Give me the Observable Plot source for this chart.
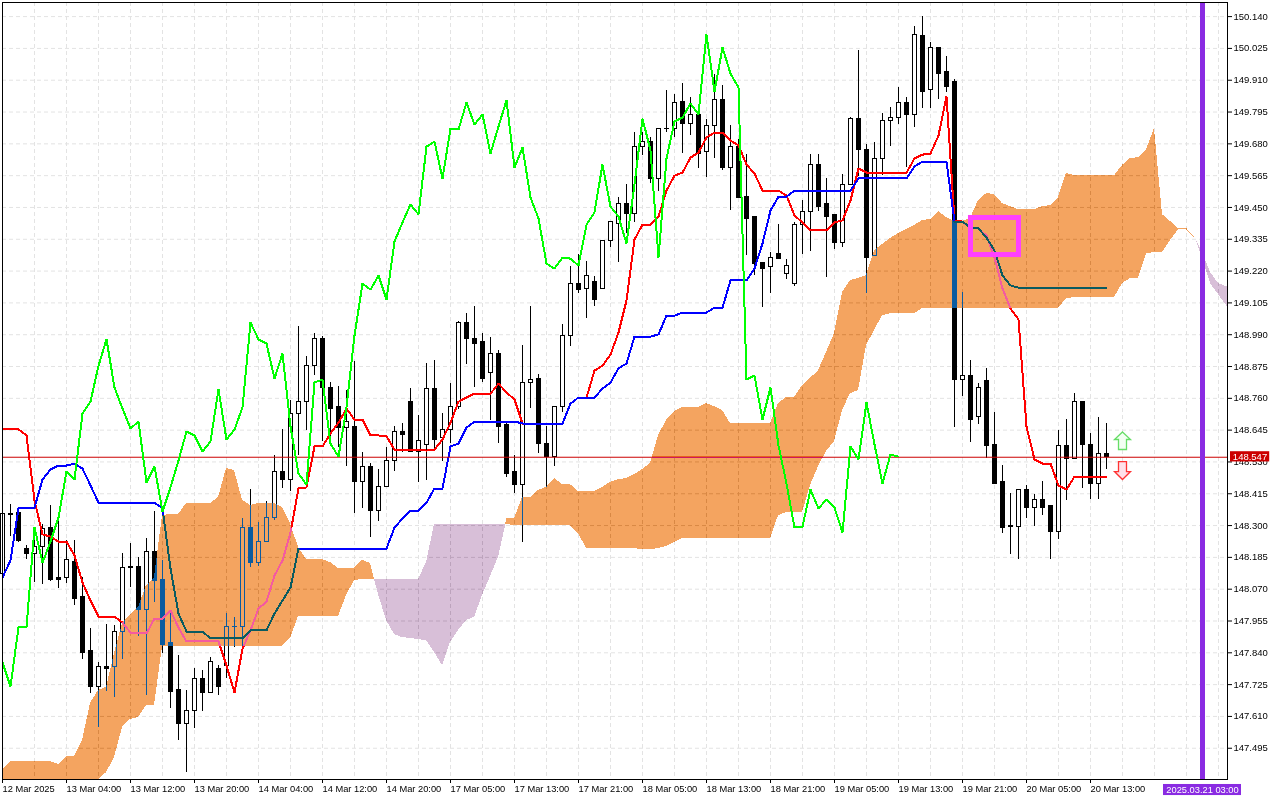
<!DOCTYPE html>
<html>
<head>
<meta charset="utf-8">
<script src="https://cdn.jsdelivr.net/npm/d3@7"></script>
<script src="https://cdn.jsdelivr.net/npm/@observablehq/plot@0.6"></script>
<style>html,body{margin:0;padding:0;background:#fff}#c{width:1280px;height:800px;overflow:hidden}</style>
</head>
<body>
<div id="c"></div>
<script>
// Hourly bars, index 0 = 12 Mar 2025 20:00
const open = [
148.126,148.343,148.347,148.217,148.196,148.221,148.293,148.112,148.112,148.170,
148.040,147.845,147.718,147.790,147.787,147.917,148.152,148.152,147.993,148.206,
148.105,147.877,147.704,147.581,147.631,147.744,147.693,147.780,147.794,147.935,
147.935,148.293,148.166,148.242,148.329,148.495,148.463,148.705,148.745,148.878,
148.973,148.799,148.727,148.651,148.658,148.459,148.513,148.351,148.438,148.535,
148.640,148.745,148.567,148.593,148.792,148.615,148.647,148.727,149.034,148.976,
148.962,148.850,148.922,148.662,148.495,148.448,148.817,148.831,148.596,148.549,
148.727,148.987,149.175,149.157,149.179,149.157,149.327,149.392,149.461,149.428,
149.670,149.685,149.554,149.735,149.735,149.833,149.750,149.786,149.649,149.743,
149.837,149.591,149.667,149.489,149.414,149.251,149.233,149.283,149.211,149.175,
149.388,149.432,149.605,149.461,149.421,149.320,149.533,149.771,149.659,149.273,
149.627,149.761,149.775,149.826,149.786,150.071,149.876,150.028,149.938,149.905,
148.828,148.839,148.694,148.821,148.593,148.456,148.300,148.296,148.430,148.362,
148.394,148.369,148.275,148.589,148.539,148.745,148.593,148.452,148.557];
const high = [
148.373,148.376,148.354,148.228,148.282,148.304,148.373,148.318,148.246,148.246,
148.112,147.928,147.805,147.942,147.939,148.199,148.235,148.185,148.253,148.351,
148.174,147.982,147.830,147.704,147.783,147.776,147.823,147.794,147.982,147.968,
148.325,148.430,148.311,148.387,148.553,148.647,148.752,149.019,148.911,148.994,
148.983,148.817,148.803,148.788,148.893,148.564,148.524,148.503,148.582,148.658,
148.669,148.795,148.698,148.886,148.897,148.705,148.813,149.038,149.066,149.092,
148.994,148.980,148.933,148.673,148.553,148.951,149.092,148.846,148.658,148.730,
149.027,149.236,149.280,149.254,149.200,149.330,149.396,149.486,149.533,149.721,
149.721,149.703,149.735,149.873,149.858,149.898,149.847,149.800,149.768,149.930,
149.891,149.746,149.696,149.641,149.414,149.251,149.287,149.388,149.262,149.396,
149.475,149.641,149.641,149.554,149.421,149.569,149.775,150.017,149.677,149.685,
149.790,149.811,149.884,149.847,150.104,150.140,150.046,150.028,149.996,149.912,
149.142,148.897,148.813,148.868,148.709,148.517,148.416,148.430,148.445,148.412,
148.459,148.369,148.644,148.683,148.777,148.745,148.633,148.690,148.669];
const low = [
148.108,148.260,148.239,148.178,148.094,148.087,148.098,148.072,148.090,148.011,
147.816,147.693,147.570,147.700,147.678,147.816,148.076,147.899,147.686,148.022,
147.837,147.639,147.523,147.408,147.566,147.628,147.693,147.686,147.747,147.859,
147.848,148.148,148.152,148.242,148.318,148.434,148.423,148.553,148.644,148.842,
148.604,148.604,148.582,148.513,148.343,148.362,148.257,148.315,148.438,148.495,
148.564,148.564,148.456,148.463,148.571,148.531,148.596,148.719,148.882,148.799,
148.817,148.680,148.596,148.474,148.416,148.239,148.723,148.560,148.438,148.513,
148.709,148.947,149.139,149.048,149.092,149.157,149.305,149.251,149.356,149.396,
149.638,149.536,149.507,149.721,149.703,149.645,149.710,149.591,149.558,149.627,
149.583,149.439,149.486,149.276,149.204,149.088,149.139,149.265,149.189,149.164,
149.280,149.291,149.435,149.197,149.298,149.305,149.533,149.562,149.139,149.273,
149.565,149.670,149.750,149.594,149.739,149.808,149.808,149.840,149.866,148.654,
148.766,148.600,148.665,148.542,148.452,148.271,148.195,148.177,148.325,148.296,
148.336,148.177,148.250,148.391,148.539,148.434,148.394,148.394,148.503];
const close = [
148.343,148.340,148.246,148.196,148.221,148.289,148.105,148.105,148.174,148.036,
147.841,147.718,147.787,147.783,147.917,148.148,148.148,147.993,148.206,148.101,
147.870,147.700,147.581,147.628,147.744,147.693,147.805,147.718,147.932,147.932,
148.293,148.166,148.242,148.329,148.495,148.466,148.705,148.748,148.878,148.973,
148.799,148.723,148.651,148.676,148.456,148.513,148.351,148.438,148.535,148.640,
148.626,148.567,148.604,148.792,148.611,148.647,148.727,149.034,148.973,148.958,
148.831,148.922,148.658,148.488,148.448,148.817,148.828,148.596,148.549,148.727,
148.987,149.175,149.153,149.204,149.117,149.327,149.396,149.461,149.425,149.670,
149.688,149.554,149.735,149.732,149.829,149.750,149.786,149.645,149.743,149.837,
149.594,149.667,149.486,149.410,149.247,149.229,149.269,149.265,149.240,149.388,
149.432,149.605,149.453,149.417,149.320,149.533,149.771,149.656,149.269,149.627,
149.761,149.775,149.826,149.786,150.075,149.869,150.028,149.934,149.884,148.828,
148.842,148.683,148.799,148.589,148.452,148.293,148.296,148.430,148.362,148.394,
148.365,148.275,148.586,148.539,148.745,148.593,148.452,148.557,148.549];

// Red line, bars 0..138
const redLine = [
148.648,148.648,148.648,148.626,148.391,148.268,148.260,148.242,148.242,148.192,
148.094,148.029,147.971,147.971,147.971,147.949,147.913,147.910,147.910,147.964,
147.964,147.993,147.931,147.881,147.881,147.881,147.881,147.881,147.794,147.696,
147.855,147.921,148.000,148.025,148.119,148.174,148.275,148.434,148.438,148.586,
148.586,148.633,148.672,148.723,148.683,148.683,148.626,148.626,148.622,148.575,
148.575,148.575,148.575,148.571,148.575,148.611,148.672,148.748,148.763,148.777,
148.777,148.777,148.813,148.781,148.756,148.669,148.669,148.669,148.669,148.669,
148.669,148.741,148.763,148.763,148.860,148.878,148.918,148.998,149.114,149.334,
149.388,149.388,149.417,149.511,149.565,149.576,149.630,149.649,149.703,149.721,
149.721,149.692,149.674,149.605,149.573,149.511,149.511,149.511,149.493,149.421,
149.396,149.367,149.367,149.367,149.396,149.403,149.475,149.591,149.576,149.576,
149.576,149.576,149.576,149.576,149.627,149.641,149.645,149.710,149.851,149.403,
149.399,149.374,149.374,149.348,149.269,149.157,149.085,149.045,148.658,148.539,
148.524,148.524,148.445,148.430,148.477,148.477,148.477,148.477,148.477];
// Blue line, bars 0..138
const blueLine = [
148.112,148.174,148.362,148.362,148.365,148.466,148.503,148.517,148.517,148.524,
148.506,148.445,148.383,148.383,148.383,148.383,148.383,148.383,148.383,148.383,
148.362,148.145,147.982,147.917,147.917,147.917,147.892,147.892,147.892,147.892,
147.892,147.921,147.921,147.921,147.982,148.029,148.076,148.217,148.217,148.217,
148.217,148.217,148.217,148.217,148.217,148.217,148.217,148.217,148.217,148.293,
148.325,148.354,148.354,148.383,148.434,148.434,148.586,148.596,148.654,148.676,
148.676,148.676,148.676,148.676,148.676,148.669,148.669,148.669,148.669,148.669,
148.669,148.741,148.763,148.763,148.763,148.795,148.817,148.868,148.886,148.983,
148.983,148.983,148.991,149.059,149.059,149.070,149.070,149.070,149.070,149.088,
149.088,149.186,149.186,149.186,149.229,149.320,149.439,149.489,149.489,149.511,
149.511,149.511,149.511,149.511,149.511,149.511,149.511,149.555,149.555,149.555,
149.555,149.555,149.555,149.555,149.598,149.616,149.616,149.616,149.616,149.399,
149.399,149.377,149.374,149.341,149.294,149.204,149.168,149.160,149.160,149.160,
149.160,149.160,149.160,149.160,149.160,149.160,149.160,149.160,149.160];
// Green line, bars 0..112
const greenLine = [
147.805,147.718,147.932,147.932,148.293,148.166,148.242,148.329,148.495,148.466,
148.705,148.748,148.878,148.973,148.799,148.723,148.651,148.676,148.456,148.513,
148.351,148.438,148.535,148.640,148.626,148.567,148.604,148.792,148.611,148.647,
148.727,149.034,148.973,148.958,148.831,148.922,148.658,148.488,148.448,148.817,
148.828,148.596,148.549,148.727,148.987,149.175,149.153,149.204,149.117,149.327,
149.396,149.461,149.425,149.670,149.688,149.554,149.735,149.732,149.829,149.750,
149.786,149.645,149.743,149.837,149.594,149.667,149.486,149.410,149.247,149.229,
149.269,149.265,149.240,149.388,149.432,149.605,149.453,149.417,149.320,149.533,
149.771,149.656,149.269,149.627,149.761,149.775,149.826,149.786,150.075,149.869,
150.028,149.934,149.884,148.828,148.842,148.683,148.799,148.589,148.452,148.293,
148.296,148.430,148.362,148.394,148.365,148.275,148.586,148.539,148.745,148.593,
148.452,148.557,148.549];

// Cloud segments: first bar index, upper edge, lower edge
const cloudAStart = 0;
const cloudATop = [
147.415,147.447,147.447,147.447,147.447,147.447,147.447,147.436,147.465,147.465,
147.523,147.657,147.704,147.715,147.837,147.946,147.975,148.004,148.083,148.112,
148.336,148.340,148.340,148.380,148.380,148.380,148.380,148.401,148.506,148.499,
148.391,148.373,148.380,148.380,148.380,148.365,148.307,148.221,148.177,148.177,
148.177,148.166,148.145,148.145,148.145,148.174,148.163];
const cloudABot = [
147.382,147.382,147.382,147.382,147.382,147.382,147.382,147.382,147.382,147.382,
147.382,147.382,147.382,147.407,147.461,147.570,147.599,147.606,147.649,147.649,
147.863,147.863,147.863,147.863,147.863,147.863,147.863,147.863,147.863,147.863,
147.863,147.863,147.863,147.863,147.863,147.863,147.892,147.971,147.971,147.971,
147.971,147.971,147.971,148.047,148.101,148.105,148.105];
const crossAB = [46.5, 148.105];
const cloudBStart = 47;
const cloudBTop = [
148.105,148.105,148.105,148.105,148.105,148.105,148.166,148.304,148.304,148.304,
148.304,148.304,148.304,148.304,148.304,148.304];
const cloudBBot = [
148.051,147.957,147.906,147.895,147.892,147.888,147.884,147.841,147.794,147.877,
147.921,147.957,147.968,148.047,148.116,148.185];
const crossBC = [62.9, 148.302];
const cloudCStart = 63;
const cloudCTop = [
148.325,148.325,148.401,148.401,148.427,148.438,148.470,148.448,148.448,148.423,
148.423,148.423,148.438,148.456,148.466,148.470,148.484,148.503,148.524,148.625,
148.680,148.712,148.727,148.727,148.727,148.741,148.730,148.716,148.669,148.669,
148.669,148.669,148.669,148.669,148.741,148.763,148.763,148.806,148.832,148.860,
148.926,148.994,149.142,149.186,149.193,149.204,149.294,149.316,149.338,149.356,
149.370,149.385,149.403,149.406,149.435,149.414,149.399,149.399,149.410,149.475,
149.500,149.497,149.464,149.453,149.442,149.442,149.442,149.453,149.457,149.486,
149.573,149.565,149.565,149.565,149.565,149.565,149.565,149.602,149.627,149.630,
149.659,149.735,149.424,149.399,149.374,149.374,149.345];
const cloudCBot = [
148.304,148.300,148.300,148.300,148.300,148.300,148.300,148.300,148.300,148.271,
148.217,148.217,148.217,148.217,148.217,148.217,148.217,148.213,148.213,148.217,
148.224,148.239,148.253,148.253,148.253,148.253,148.253,148.253,148.253,148.253,
148.253,148.253,148.253,148.253,148.336,148.347,148.347,148.347,148.445,148.513,
148.568,148.604,148.716,148.777,148.788,148.951,149.005,149.059,149.066,149.066,
149.066,149.066,149.085,149.085,149.085,149.085,149.085,149.085,149.085,149.085,
149.085,149.085,149.085,149.085,149.085,149.085,149.085,149.085,149.085,149.085,
149.121,149.124,149.124,149.124,149.124,149.124,149.124,149.175,149.193,149.193,
149.283,149.287,149.287,149.330,149.370,149.370,149.341];
const crossCD = [149.1, 149.340];
const cloudDStart = 150;
const cloudDTop = [149.287,149.215,149.175,149.164];
const cloudDBot = [149.265,149.175,149.135,149.095];
const cloudDEnd = {k:153.125,t:149.161,b:149.092};

const yTicks = [150.140,150.025,149.910,149.795,149.680,149.565,149.450,149.335,149.220,149.105,148.990,148.875,148.760,148.645,148.530,148.415,148.300,148.185,148.070,147.955,147.840,147.725,147.610,147.495];
const xTickBars = [0,8,16,24,32,40,48,56,64,72,80,88,96,104,112,120,128,136];
const xTickLabels = ["12 Mar 2025","13 Mar 04:00","13 Mar 12:00","13 Mar 20:00","14 Mar 04:00","14 Mar 12:00","14 Mar 20:00","17 Mar 05:00","17 Mar 13:00","17 Mar 21:00","18 Mar 05:00","18 Mar 13:00","18 Mar 21:00","19 Mar 05:00","19 Mar 13:00","19 Mar 21:00","20 Mar 05:00","20 Mar 13:00"];
const xGridBars = [0,4,8,12,16,20,24,28,32,36,40,44,48,52,56,60,64,68,72,76,80,84,88,92,96,100,104,108,112,116,120,124,128,132,136,140,144,148,152];
const lastPrice = 148.547;
const markerBar = 150;
const markerLabel = "2025.03.21 03:00";
const zoneBox = [{x1:121.06,x2:127.06,y1:149.278,y2:149.412}];
const upArrow = [{k:140,p:148.604}];
const downArrow = [{k:140,p:148.499}];
const priceTagBox = [{x1:153.5,x2:158.4,y1:148.530,y2:148.567}];
const priceTagText = [{k:155.94,p:lastPrice}];
const markerTagBox = [{x1:145.125,x2:154.875,y1:147.324,y2:147.364}];
const markerTagText = [{k:150,p:147.344}];

const candles = open.map((o,i)=>({k:i,o,h:high[i],l:low[i],c:close[i]}));
const upBars = candles.filter(d=>d.c>d.o);
const downBars = candles.filter(d=>d.c<=d.o);
const seriesRows = a => a.map((v,i)=>({k:i,v}));
const seg = (start,top,bot,head,tail) => [
  ...(head?[{k:head[0],t:head[1],b:head[1]}]:[]),
  ...top.map((t,i)=>({k:start+i,t,b:bot[i]})),
  ...(tail?[{k:tail[0],t:tail[1],b:tail[1]}]:[])
];
const orange1 = seg(cloudAStart,cloudATop,cloudABot,null,crossAB);
const purple1 = seg(cloudBStart,cloudBTop,cloudBBot,crossAB,crossBC);
const orange2 = seg(cloudCStart,cloudCTop,cloudCBot,crossBC,crossCD);
const purple2 = [...seg(cloudDStart,cloudDTop,cloudDBot,crossCD,null),cloudDEnd];

const ORANGE_X = "#0b5b9f";   // difference against white gives sandybrown
const THISTLE_X = "#274027";  // difference against white gives thistle
const cloudMark = (rows,fill) => Plot.areaY(rows,{x:"k",y1:"b",y2:"t",fill,mixBlendMode:"difference",shapeRendering:"crispEdges"});
const lineMark = (a,stroke) => Plot.lineY(seriesRows(a),{x:"k",y:"v",stroke,strokeWidth:2,curve:"linear",shapeRendering:"crispEdges",strokeLinejoin:"miter",strokeLinecap:"butt"});
const arrowUp = {draw(c,size){const s=Math.sqrt(size/Math.PI)/8;
  c.moveTo(0,-9.5*s);c.lineTo(8*s,-2*s);c.lineTo(4*s,-2*s);c.lineTo(4*s,8*s);c.lineTo(-4*s,8*s);c.lineTo(-4*s,-2*s);c.lineTo(-8*s,-2*s);c.closePath();}};
const arrowDown = {draw(c,size){const s=Math.sqrt(size/Math.PI)/8;
  c.moveTo(0,9*s);c.lineTo(8*s,1*s);c.lineTo(4*s,1*s);c.lineTo(4*s,-9*s);c.lineTo(-4*s,-9*s);c.lineTo(-4*s,1*s);c.lineTo(-8*s,1*s);c.closePath();}};

const chart = Plot.plot({
  width:1280,height:800,
  marginLeft:2,marginRight:53,marginTop:2,marginBottom:21,
  style:{fontFamily:"'Liberation Sans',sans-serif",fontSize:"9.3px",background:"#fff",color:"#000"},
  x:{domain:[0,153.125]},
  y:{domain:[147.382,150.191]},
  marks:[
    Plot.frame({fill:"#fff",stroke:"none"}),
    Plot.gridX(xGridBars,{stroke:"#e3e3e3",strokeOpacity:1,strokeDasharray:"4,3"}),
    Plot.gridY(yTicks,{stroke:"#e3e3e3",strokeOpacity:1,strokeDasharray:"4,3"}),
    Plot.ruleX(candles,{x:"k",y1:"l",y2:"h",stroke:"#000",strokeWidth:1,shapeRendering:"crispEdges"}),
    Plot.rectY(upBars,{x1:d=>d.k-0.25,x2:d=>d.k+0.25,y1:"o",y2:"c",fill:"#fff",stroke:"#000",strokeWidth:1,shapeRendering:"crispEdges"}),
    Plot.rectY(downBars,{x1:d=>d.k-0.25,x2:d=>d.k+0.25,y1:"o",y2:"c",fill:"#000",stroke:"#000",strokeWidth:1,shapeRendering:"crispEdges"}),
    lineMark(redLine,"#ff0000"),
    lineMark(blueLine,"#0000ff"),
    Plot.ruleY([lastPrice],{stroke:"#cc0000",strokeWidth:1}),
    cloudMark(orange1,ORANGE_X),
    cloudMark(purple1,THISTLE_X),
    cloudMark(orange2,ORANGE_X),
    cloudMark(purple2,THISTLE_X),
    lineMark(greenLine,"#00ff00"),
    Plot.rect(zoneBox,{x1:"x1",x2:"x2",y1:"y1",y2:"y2",fill:"none",stroke:"#ff40ff",strokeWidth:5,strokeLinejoin:"miter"}),
    Plot.ruleX([markerBar],{stroke:"#8a2be2",strokeWidth:5}),
    Plot.dot(upArrow,{x:"k",y:"p",r:8,symbol:arrowUp,fill:"#f2fff2",stroke:"#66dd66",strokeWidth:1.3}),
    Plot.dot(downArrow,{x:"k",y:"p",r:8,symbol:arrowDown,fill:"#ffe2ea",stroke:"#ff3333",strokeWidth:1.3}),
    Plot.frame({stroke:"#000",strokeWidth:1}),
    Plot.axisY({ticks:yTicks,anchor:"right",tickSize:4,tickPadding:2,tickFormat:d=>d.toFixed(3),label:null,textAnchor:"start",stroke:"#000",fontSize:9.5}),
    Plot.axisX({ticks:xTickBars,anchor:"bottom",tickSize:4,tickPadding:2,tickFormat:d=>xTickLabels[xTickBars.indexOf(d)],label:null,textAnchor:"start",stroke:"#000"}),
    Plot.rect(priceTagBox,{x1:"x1",x2:"x2",y1:"y1",y2:"y2",fill:"#cc0000"}),
    Plot.text(priceTagText,{x:"k",y:"p",text:()=>lastPrice.toFixed(3),fill:"#fff",fontSize:9.5}),
    Plot.rect(markerTagBox,{x1:"x1",x2:"x2",y1:"y1",y2:"y2",fill:"#8a2be2"}),
    Plot.text(markerTagText,{x:"k",y:"p",text:()=>markerLabel,fill:"#fff",fontSize:9.3})
  ]
});
document.getElementById("c").appendChild(chart);
</script>
</body>
</html>
